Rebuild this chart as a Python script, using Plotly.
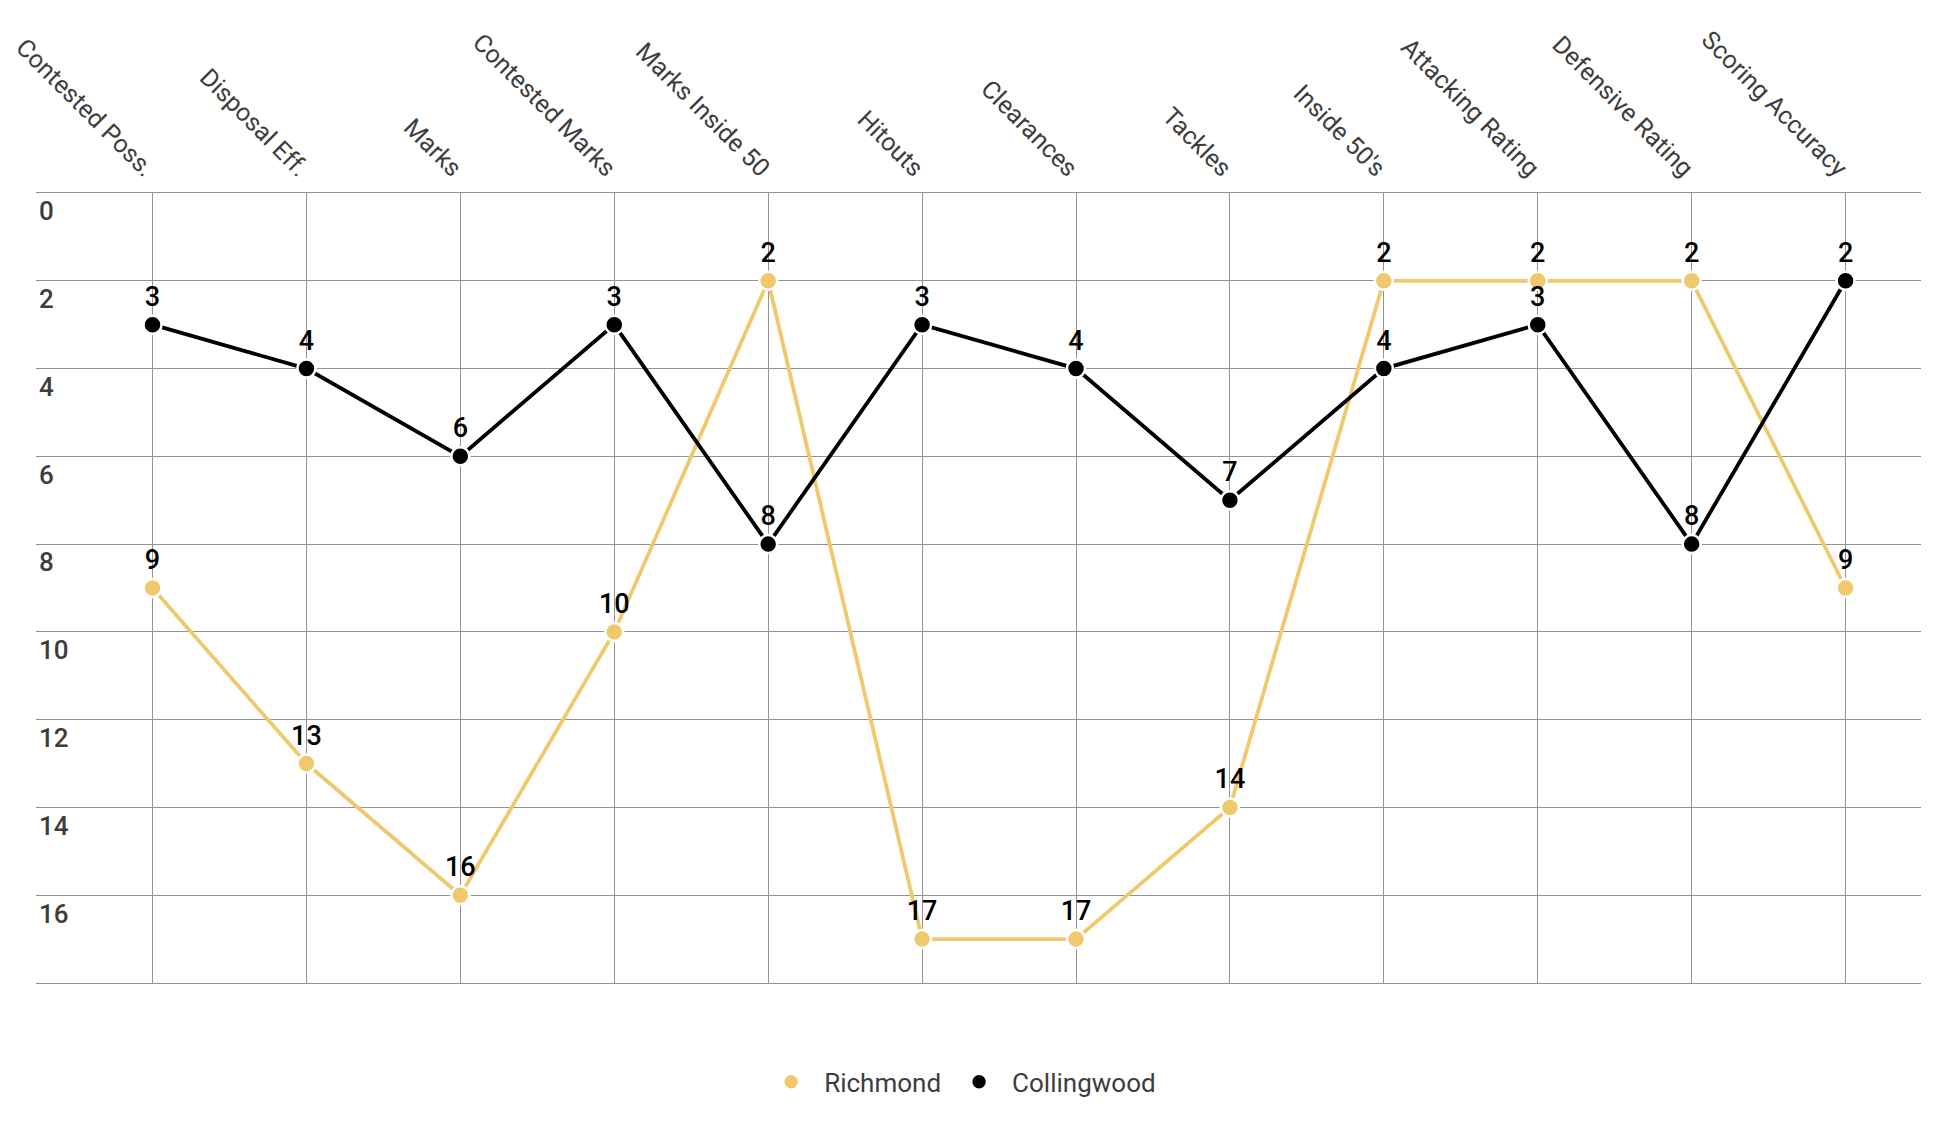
import plotly.graph_objects as go

categories = ["Contested Poss.", "Disposal Eff.", "Marks", "Contested Marks",
              "Marks Inside 50", "Hitouts", "Clearances", "Tackles",
              "Inside 50's", "Attacking Rating", "Defensive Rating", "Scoring Accuracy"]
richmond = [9, 13, 16, 10, 2, 17, 17, 14, 2, 2, 2, 9]
collingwood = [3, 4, 6, 3, 8, 3, 4, 7, 4, 3, 8, 2]
y_ticks = [0, 2, 4, 6, 8, 10, 12, 14, 16, 18]

GOLD = "#F0C96E"
GRID = "#939393"
TXT = "#3d3d3d"

fig = go.Figure()
series = [("Richmond", richmond, GOLD), ("Collingwood", collingwood, "#000000")]
# lines (no legend entry)
for name, vals, col in series:
    fig.add_trace(go.Scatter(
        x=categories, y=vals, name=name, mode="lines", showlegend=False,
        line=dict(color=col, width=3.8), hoverinfo="skip",
    ))
# markers + value labels (legend shows markers only)
for name, vals, col in series:
    fig.add_trace(go.Scatter(
        x=categories, y=vals, name=name, mode="markers+text",
        text=[str(v) for v in vals], textposition="top center",
        textfont=dict(family="Roboto", size=27, color="#000000", weight=500),
        marker=dict(color=col, size=18, line=dict(color="#ffffff", width=2.5)),
        cliponaxis=False,
    ))

fig.update_layout(
    width=1926, height=1116,
    margin=dict(l=28, r=13, t=185, b=141, autoexpand=False),
    paper_bgcolor="#ffffff", plot_bgcolor="#ffffff",
    font=dict(family="Roboto", color=TXT),
    showlegend=True,
    legend=dict(orientation="h", x=0.49, xanchor="center", y=-0.125, yanchor="middle",
                font=dict(size=26, color=TXT), itemsizing="trace", traceorder="normal",
                itemwidth=56),
    xaxis=dict(side="top", tickangle=45, range=[-0.757, 11.49], automargin=False,
               showgrid=True, gridcolor=GRID, gridwidth=1.3,
               showline=True, mirror=True, linecolor=GRID, linewidth=1.3,
               ticks="", tickfont=dict(size=25, color=TXT, weight=400), zeroline=False),
    yaxis=dict(range=[18, 0], tickvals=y_ticks, ticktext=[str(v) for v in y_ticks],
               automargin=False,
               showgrid=True, gridcolor=GRID, gridwidth=1.3,
               ticklabelposition="inside bottom", ticks="",
               tickfont=dict(size=26, color=TXT, weight=500), zeroline=False, showline=False),
)

fig.write_html("out.html")
